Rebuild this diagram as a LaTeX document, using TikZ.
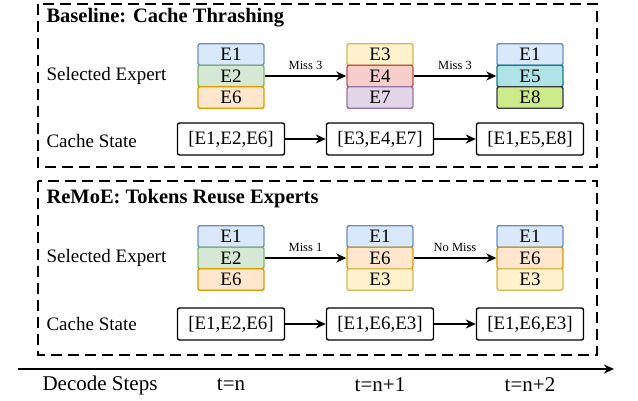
\documentclass[tikz,border=0pt]{standalone}
\usepackage{fontspec}
\setmainfont{Liberation Serif}
\usetikzlibrary{arrows.meta}
\definecolor{bF}{HTML}{DAE8FC}\definecolor{bD}{HTML}{6C8EBF}
\definecolor{gF}{HTML}{D5E8D4}\definecolor{gD}{HTML}{82B366}
\definecolor{oF}{HTML}{FFE6CC}\definecolor{oD}{HTML}{D79B00}
\definecolor{yF}{HTML}{FFF2CC}\definecolor{yD}{HTML}{D6B656}
\definecolor{rF}{HTML}{F8CECC}\definecolor{rD}{HTML}{B85450}
\definecolor{pF}{HTML}{E1D5E7}\definecolor{pD}{HTML}{9673A6}
\definecolor{cF}{HTML}{B0E3E6}\definecolor{cD}{HTML}{0E8088}
\definecolor{lF}{HTML}{CDEB8B}\definecolor{lD}{HTML}{36393D}
\begin{document}
\begin{tikzpicture}[x=1pt,y=-1pt,
  ex/.style={draw=#1D,fill=#1F,line width=1.4pt,rounded corners=2pt,minimum width=66pt,minimum height=21.5pt,inner sep=0pt,font=\fontsize{19}{19}\selectfont},
  cs/.style={draw,line width=1.4pt,rounded corners=2pt,minimum width=107pt,minimum height=32pt,inner sep=0pt,font=\fontsize{19}{19}\selectfont},
  lab/.style={font=\fontsize{19}{19}\selectfont,anchor=west},
  ttl/.style={font=\bfseries\fontsize{20.5}{20.5}\selectfont,anchor=west},
  arr/.style={-{Stealth[length=10pt,width=9pt]},line width=1.6pt},
  ml/.style={font=\fontsize{12.5}{12.5}\selectfont,above=2pt},
  tl/.style={font=\fontsize{21}{21}\selectfont},
  frame/.style={draw,dashed,dash pattern=on 11pt off 6pt,line width=1.5pt}]
\useasboundingbox (0,0) rectangle (638,400);
\draw[frame] (38,4) rectangle (597,167);
\draw[frame] (38,181) rectangle (597,355);
\node[ttl] (t1) at (43,18) {Baseline: Cache Thrashing};
\node[ttl] (t2) at (43,199) {ReMoE: Tokens Reuse Experts};
\node[lab] (s1) at (43,76) {Selected Expert};
\node[lab] (c1) at (43,141) {Cache State};
\node[lab] (s2) at (43,258) {Selected Expert};
\node[lab] (c2) at (43,324) {Cache State};
% top
\node[ex=b] (a1) at (231,54.5) {E1};
\node[ex=g] (a2) at (231,76) {E2};
\node[ex=o] (a3) at (231,97.5) {E6};
\node[ex=y] (b1) at (380,54.5) {E3};
\node[ex=r] (b2) at (380,76) {E4};
\node[ex=p] (b3) at (380,97.5) {E7};
\node[ex=b] (d1) at (530,54.5) {E1};
\node[ex=c] (d2) at (530,76) {E5};
\node[ex=l] (d3) at (530,97.5) {E8};
\draw[arr] (a2) -- node[ml]{Miss 3} (b2);
\draw[arr] (b2) -- node[ml]{Miss 3} (d2);
\node[cs] (p1) at (231,139) {[E1,E2,E6]};
\node[cs] (p2) at (380,139) {[E3,E4,E7]};
\node[cs] (p3) at (530,139) {[E1,E5,E8]};
\draw[arr] (p1) -- (p2); \draw[arr] (p2) -- (p3);
% bottom
\node[ex=b] (e1) at (231,236.5) {E1};
\node[ex=g] (e2) at (231,258) {E2};
\node[ex=o] (e3) at (231,279.5) {E6};
\node[ex=b] (f1) at (380,236.5) {E1};
\node[ex=o] (f2) at (380,258) {E6};
\node[ex=y] (f3) at (380,279.5) {E3};
\node[ex=b] (g1) at (530,236.5) {E1};
\node[ex=o] (g2) at (530,258) {E6};
\node[ex=y] (g3) at (530,279.5) {E3};
\draw[arr] (e2) -- node[ml]{Miss 1} (f2);
\draw[arr] (f2) -- node[ml]{No Miss} (g2);
\node[cs] (q1) at (231,324) {[E1,E2,E6]};
\node[cs] (q2) at (380,324) {[E1,E6,E3]};
\node[cs] (q3) at (530,324) {[E1,E6,E3]};
\draw[arr] (q1) -- (q2); \draw[arr] (q2) -- (q3);
% timeline
\coordinate (l0) at (18,369); \coordinate (l1) at (614,369);
\draw[arr] (l0) -- (l1);
\node[tl] (dl) at (100,385) {Decode Steps};
\node[tl] (n0) at (231,385) {t=n};
\node[tl] (n1) at (380,385) {t=n+1};
\node[tl] (n2) at (530,385) {t=n+2};
\end{tikzpicture}
\end{document}
